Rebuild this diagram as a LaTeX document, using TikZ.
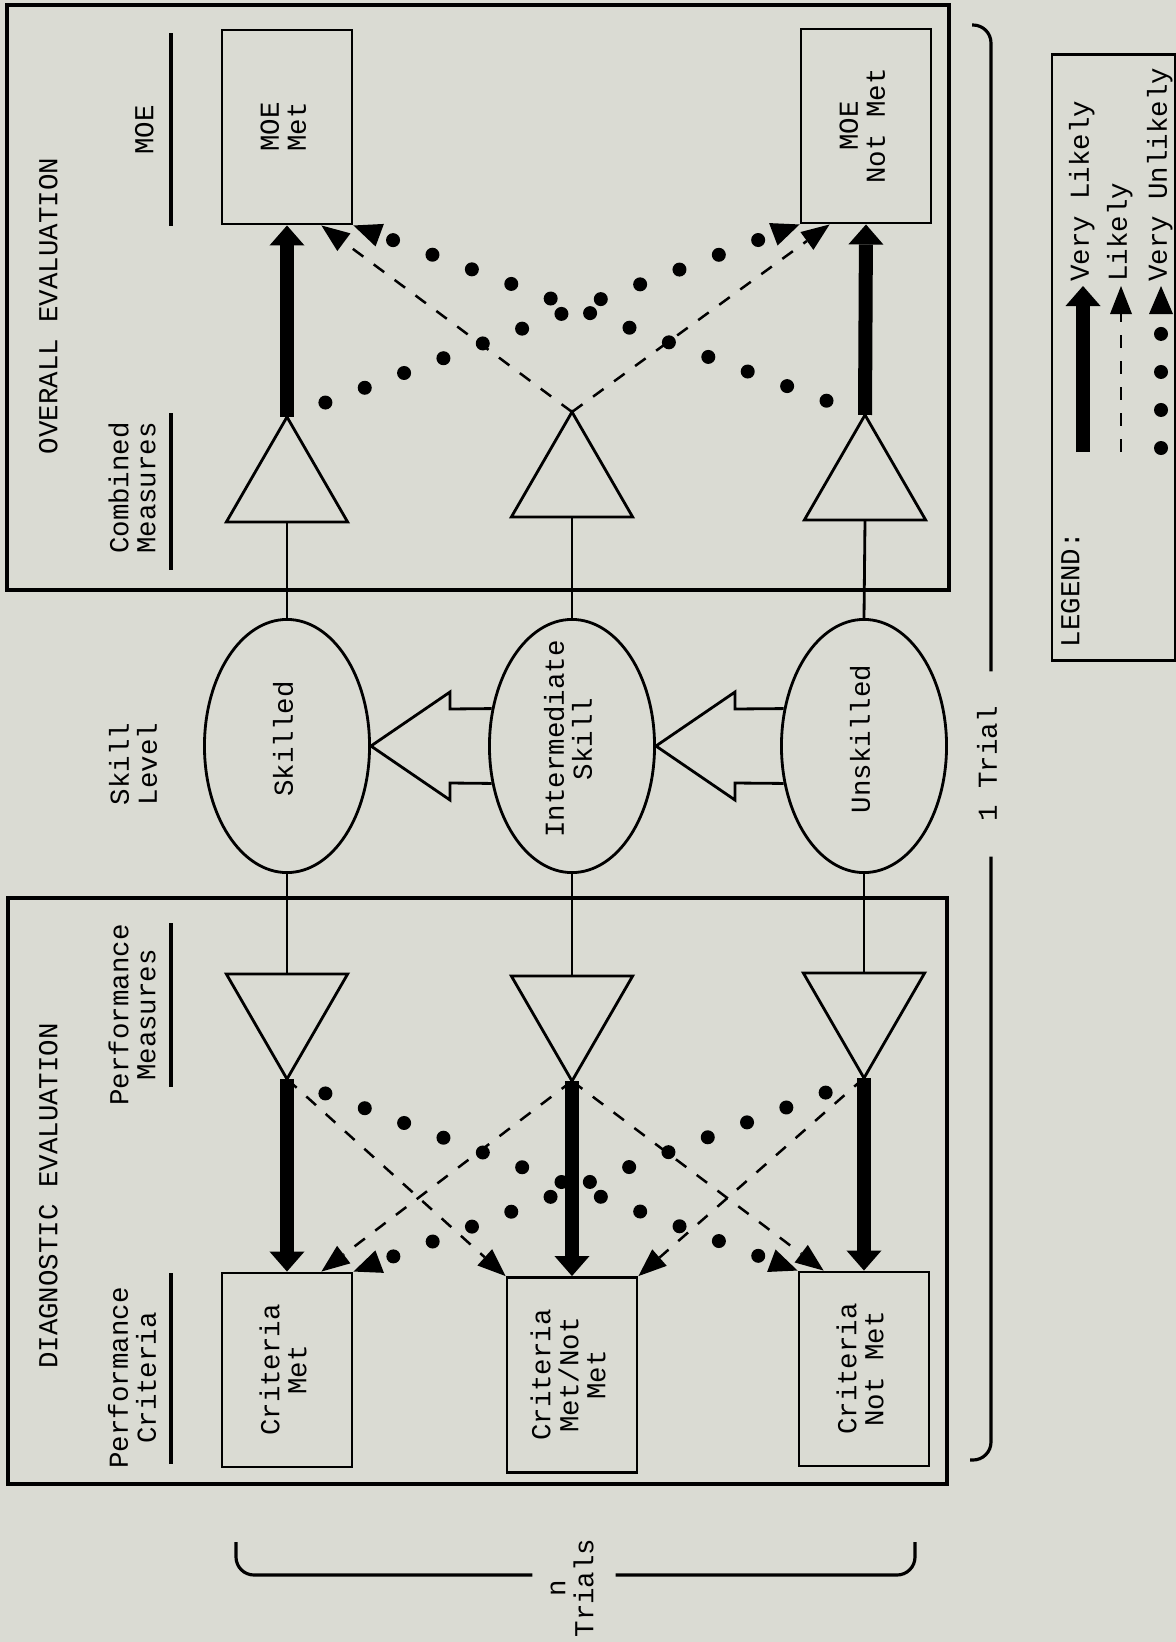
\documentclass[tikz,border=0pt]{standalone}
\usepackage{fontspec}
\setmainfont{Liberation Mono}
\usetikzlibrary{arrows.meta,shapes.geometric}

\definecolor{paper}{RGB}{218,219,211}
\newcommand{\vt}[1]{\rotatebox[origin=c]{90}{\begin{tabular}{@{}c@{}}#1\end{tabular}}}

\tikzset{
  frame/.style={line width=1.2pt},
  rule/.style={line width=1.2pt},
  conn/.style={line width=0.8pt},
  box/.style={draw, line width=0.8pt, inner sep=0pt, minimum width=1.30cm, minimum height=1.94cm},
  oval/.style={draw, ellipse, line width=0.8pt, inner sep=0pt, minimum width=1.65cm, minimum height=2.53cm, text height=0pt, text depth=0pt},
  meas/.style={draw, regular polygon, regular polygon sides=3, line width=0.8pt, inner sep=0pt, outer sep=0pt, minimum size=1.40cm},
  hollow/.style={line width=0.8pt},
  brace/.style={line width=0.9pt},
  thk/.style={line width=0.14cm, -{Triangle[length=0.2cm, width=0.35cm, line width=0pt]}},
  dsh/.style={line width=0.025cm, dash pattern=on 0.13cm off 0.13cm, -{Triangle[length=0.28cm, width=0.22cm, line width=0pt]}},
  dts/.style={line width=0.14cm, line cap=round, dash pattern=on 0pt off 0.42cm, dash phase=0.01cm, -{Triangle[length=0.28cm, width=0.24cm, line width=0pt]}}
}

\begin{document}
\begin{tikzpicture}[x=0.01cm, y=-0.01cm, font=\fontsize{7.8}{7.7}\selectfont]
\useasboundingbox (0,0) rectangle (1176,1642);
\fill[paper] (0,0) rectangle (1176,1642);

% the two evaluation frames
\draw[frame] (7,5) rectangle (949,590);
\draw[frame] (8,898) rectangle (947,1484);

% headings
\node (ovhd) at (52,306) {\vt{OVERALL EVALUATION}};
\node (moehd) at (148,130) {\vt{MOE}};
\node (cmhd) at (136,488) {\vt{Combined\\Measures}};
\node (skhd) at (137,764) {\vt{Skill\\Level}};
\node (pmhd) at (136,1015) {\vt{Performance\\Measures}};
\node (dghd) at (52,1196) {\vt{DIAGNOSTIC EVALUATION}};
\node (pchd) at (136,1378) {\vt{Performance\\Criteria}};
\draw[rule] (171,33) -- (171,226);
\draw[rule] (171,413) -- (171,570);
\draw[rule] (171,923) -- (171,1087);
\draw[rule] (171,1273) -- (171,1464);

% outcome boxes
\node[box] (moemet) at (287,127) {\vt{MOE\\Met}};
\node[box] (moenot) at (866,126) {\vt{MOE\\Not Met}};
\node[box] (crmet) at (287,1370) {\vt{Criteria\\Met}};
\node[box, minimum height=1.95cm] (crmid) at (572,1375) {\vt{Criteria\\Met/Not\\Met}};
\node[box] (crnot) at (864,1369) {\vt{Criteria\\Not Met}};

% measures
\node[meas] (cm1) at (287,487) {};
\node[meas] (cm2) at (572,482) {};
\node[meas] (cm3) at (865,485) {};
\node[meas, shape border rotate=180] (pm1) at (287,1009) {};
\node[meas, shape border rotate=180] (pm2) at (572,1011) {};
\node[meas, shape border rotate=180] (pm3) at (864,1008) {};

% skill levels
\node[oval] (skilled) at (287,746) {\vt{Skilled}};
\node[oval] (inter) at (572,746) {\vt{Intermediate\\Skill}};
\node[oval] (unsk) at (864,746) {\vt{Unskilled}};

\draw[conn] (cm1.side 2) -- (skilled.north);
\draw[conn] (cm2.side 2) -- (inter.north);
\draw[conn] (cm3.side 2) -- (unsk.north);
\draw[conn] (skilled.south) -- (pm1.side 2);
\draw[conn] (inter.south) -- (pm2.side 2);
\draw[conn] (unsk.south) -- (pm3.side 2);

% skill growth
\draw[hollow] (skilled.east) -- (450,692) -- (450,709) -- (inter.155);
\draw[hollow] (skilled.east) -- (450,800) -- (450,783) -- (inter.205);
\draw[hollow] (inter.east) -- (735,692) -- (735,709) -- (unsk.155);
\draw[hollow] (inter.east) -- (735,800) -- (735,783) -- (unsk.205);

% overall evaluation
\draw[thk] (cm1.corner 1) -- (moemet.south);
\draw[thk] (cm3.corner 1) -- (moenot.south);
\draw[dsh] (cm2.corner 1) -- ([xshift=-0.32cm]moemet.south east);
\draw[dsh] (cm2.corner 1) -- ([xshift=0.3cm]moenot.south west);
\draw[dts] (cm1.corner 1) -- (moenot.south west);
\draw[dts] (cm3.corner 1) -- (moemet.south east);

% diagnostic evaluation
\draw[thk] (pm1.corner 1) -- (crmet.north);
\draw[thk] (pm2.corner 1) -- (crmid.north);
\draw[thk] (pm3.corner 1) -- (crnot.north);
\draw[dsh] (pm1.corner 1) -- (crmid.north west);
\draw[dsh] (pm2.corner 1) -- ([xshift=-0.32cm]crmet.north east);
\draw[dsh] (pm2.corner 1) -- ([xshift=0.26cm]crnot.north west);
\draw[dsh] (pm3.corner 1) -- (crmid.north east);
\draw[dts] (pm1.corner 1) -- (crnot.north west);
\draw[dts] (pm3.corner 1) -- (crmet.north east);

% trials
\node[inner sep=0pt, outer ysep=0.35cm] (onetrial) at (991,764) {\vt{1 Trial}};
\draw[brace, rounded corners=0.18cm] (972,25) -| (onetrial.north);
\draw[brace, rounded corners=0.18cm] (onetrial.south) |- (970,1460);
\node[inner sep=0pt, outer xsep=0.14cm] (ntrials) at (574,1588) {\vt{n\\Trials}};
\coordinate (nbl) at (236,1542);
\coordinate (nbr) at (915,1542);
\coordinate (nbm) at (575,1575);
\draw[brace, rounded corners=0.18cm] (nbl) |- (ntrials.west |- nbm);
\draw[brace, rounded corners=0.18cm] (nbr) |- (ntrials.east |- nbm);

% legend
\node[draw, line width=0.8pt, inner sep=0pt, minimum width=1.23cm, minimum height=6.05cm] (legend) at (1113.5,357.5) {};
\node[anchor=south, inner sep=0pt] (lghd) at (1074,648) {\vt{LEGEND:}};
\node[anchor=south, inner sep=1pt] (vlik) at (1083,286) {\vt{Very Likely}};
\node[anchor=south, inner sep=1pt] (lik) at (1121,286) {\vt{Likely}};
\node[anchor=south, inner sep=1pt] (vunl) at (1161,286) {\vt{Very Unlikely}};
\coordinate (lg1) at (1083,452);
\coordinate (lg2) at (1121,452);
\coordinate (lg3) at (1161,448);
\draw[thk] (lg1) -- (vlik.south);
\draw[dsh] (lg2) -- (lik.south);
\draw[dts, dash pattern=on 0pt off 0.38cm, dash phase=0pt] (lg3) -- (vunl.south);
\end{tikzpicture}
\end{document}
